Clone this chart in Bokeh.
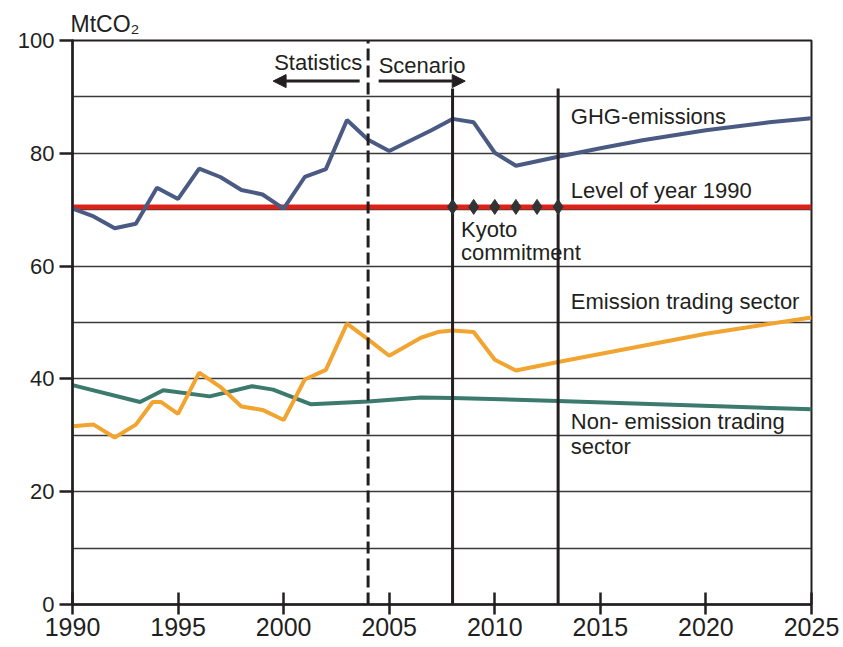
from bokeh.plotting import figure
from bokeh.models import Range1d, FixedTicker, Label, Arrow, NormalHead
from bokeh.embed import file_html
from bokeh.resources import INLINE

# ---- data ----
ghg_years = [1990, 1991, 1992, 1993, 1994, 1995, 1996, 1997, 1998, 1999, 2000, 2001, 2002,
             2003, 2004, 2005, 2007, 2008, 2009, 2010, 2011, 2013, 2015, 2017, 2020, 2023, 2025]
ghg_values = [70.2, 68.8, 66.7, 67.5, 73.9, 71.9, 77.3, 75.8, 73.5, 72.7, 70.2, 75.8, 77.2,
              85.9, 82.4, 80.4, 84.1, 86.1, 85.5, 80.1, 77.8, 79.4, 80.9, 82.3, 84.1, 85.5, 86.2]

ets_years = [1990, 1991, 1992, 1993, 1993.8, 1994.2, 1995, 1996, 1997, 1998, 1999, 2000, 2001,
             2002, 2003, 2004, 2005, 2006.5, 2007.3, 2008, 2009, 2010, 2011, 2013, 2020, 2025]
ets_values = [31.6, 31.9, 29.6, 31.9, 35.9, 35.9, 33.8, 41.1, 38.6, 35.1, 34.5, 32.7, 39.9,
              41.6, 49.8, 47.0, 44.1, 47.3, 48.3, 48.6, 48.3, 43.4, 41.5, 43.0, 48.0, 50.9]

non_ets_years = [1990, 1993.2, 1994.3, 1996.5, 1998.5, 1999.5, 2001.3, 2004, 2006.5, 2008, 2013, 2025]
non_ets_values = [38.9, 35.9, 38.0, 36.9, 38.7, 38.1, 35.5, 36.0, 36.7, 36.6, 36.1, 34.6]

level_1990 = 70.5
level_years = [1990, 2025]
statistics_end = 2004
kyoto_years = [2008, 2009, 2010, 2011, 2012, 2013]
kyoto_bounds = [2008, 2013]

x_ticks = [1990, 1995, 2000, 2005, 2010, 2015, 2020, 2025]
y_ticks = [0, 20, 40, 60, 80, 100]
y_grid = [10, 20, 30, 40, 50, 60, 70, 80, 90]

TXT = "#231f20"
FONT = "Liberation Sans"

p = figure(width=843, height=647, x_range=Range1d(1990, 2025), y_range=Range1d(0, 100),
           output_backend="svg", toolbar_location=None,
           min_border_left=72, min_border_right=32, min_border_top=40, min_border_bottom=43)
p.background_fill_color = "white"
p.border_fill_color = "white"
p.outline_line_color = TXT
p.outline_line_width = 2

# unit title
p.title.text = "MtCO\u2082"
p.title.align = "left"
p.title.offset = -2
p.title.standoff = 7
p.title.text_font = FONT
p.title.text_font_size = "23px"
p.title.text_font_style = "normal"
p.title.text_color = TXT

# grid
p.xgrid.visible = False
p.ygrid.ticker = FixedTicker(ticks=y_grid)
p.ygrid.grid_line_color = "#3a3a3a"
p.ygrid.grid_line_width = 1.4

# axes
xa = p.xaxis[0]
ya = p.yaxis[0]
xa.ticker = FixedTicker(ticks=x_ticks, minor_ticks=[])
ya.ticker = FixedTicker(ticks=y_ticks, minor_ticks=[])
for ax in (xa, ya):
    ax.axis_line_color = TXT
    ax.axis_line_width = 2.5
    ax.major_tick_line_color = TXT
    ax.major_tick_line_width = 2.5
    ax.major_tick_line_alpha = 1.0
    ax.axis_line_alpha = 1.0
    ax.major_label_text_font = FONT
    ax.major_label_text_color = TXT
xa.major_tick_in = 12
xa.major_tick_out = 10
xa.major_label_standoff = 3
xa.major_label_text_font_size = "25px"
ya.major_tick_in = 1
ya.major_tick_out = 13
ya.major_label_standoff = 5
ya.major_label_text_font_size = "22px"

# level of 1990
p.line(level_years, [level_1990] * len(level_years), line_color="#dd2219", line_width=5)

# series
p.line(non_ets_years, non_ets_values, line_color="#3b7a6c", line_width=4)
p.line(ets_years, ets_values, line_color="#f2a431", line_width=4)
p.line(ghg_years, ghg_values, line_color="#4b5a82", line_width=4)

# vertical markers
p.segment(x0=[statistics_end], y0=[0], x1=[statistics_end], y1=[100],
          line_color=TXT, line_width=3, line_dash="12 5")
p.segment(x0=kyoto_bounds, y0=[0, 0], x1=kyoto_bounds, y1=[91.5, 91.5],
          line_color=TXT, line_width=3)

# Kyoto diamonds
p.scatter(kyoto_years, [level_1990] * len(kyoto_years), marker="diamond", size=15,
          fill_color="#333333", line_color="#333333")

# arrows
p.add_layout(Arrow(x_start=2003.6, y_start=92.8, x_end=1999.5, y_end=92.8,
                   line_color=TXT, line_width=3,
                   end=NormalHead(size=13, fill_color=TXT, line_color=TXT)))
p.add_layout(Arrow(x_start=2004.5, y_start=92.8, x_end=2008.6, y_end=92.8,
                   line_color=TXT, line_width=3,
                   end=NormalHead(size=13, fill_color=TXT, line_color=TXT)))

def lab(x, y, text, size="22px"):
    p.add_layout(Label(x=x, y=y, text=text, text_font=FONT, text_font_size=size,
                       text_color=TXT, text_align="left", text_baseline="middle"))

lab(2013.6, 86.5, "GHG-emissions")
lab(2013.6, 73.4, "Level of year 1990")
lab(2008.4, 66.5, "Kyoto")
lab(2008.4, 62.4, "commitment")
lab(2013.6, 53.7, "Emission trading sector")
lab(2013.6, 32.4, "Non- emission trading")
lab(2013.6, 28.1, "sector")
lab(1999.55, 96.1, "Statistics")
lab(2004.5, 95.6, "Scenario")

open("out.html", "w").write(file_html(p, INLINE))
